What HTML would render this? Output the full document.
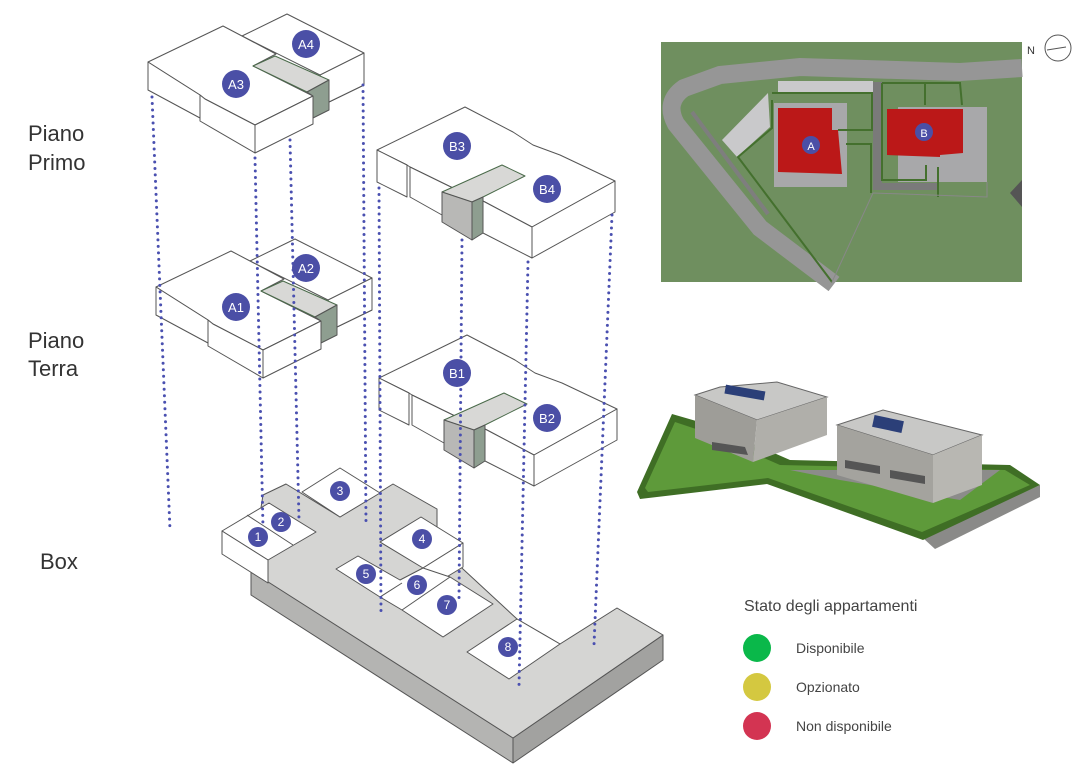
<!DOCTYPE html>
<html><head><meta charset="utf-8"><style>
html,body{margin:0;padding:0;background:#fff;}
svg{display:block;}
text{font-family:"Liberation Sans",sans-serif;}
</style></head><body>
<svg width="1076" height="780" viewBox="0 0 1076 780" xmlns="http://www.w3.org/2000/svg">
<defs>
<g id="ablock" stroke="#555" stroke-width="1" stroke-linejoin="round">
  <polygon points="242,36 287,14 364,53 364,85 329,102 320,75" fill="#fff"/>
  <polygon points="320,75 364,53 364,85 329,102" fill="#fff"/>
  <polygon points="148,62 223,26 242,36 276,54 253,66 313,96 255,125 205,99 200,95" fill="#fff"/>
  <polygon points="148,62 200,95 200,118 148,90" fill="#fff"/>
  <polygon points="200,95 205,99 255,125 255,153 200,121" fill="#fff"/>
  <polygon points="255,125 313,96 313,124 255,153" fill="#fff"/>
  <polygon points="253,66 275,56 329,80 307,92" fill="#d8d8d6" stroke="#4a6a4a"/>
  <polygon points="307,92 329,80 329,110 313,118 313,96" fill="#8e9e90"/>
</g>
<g id="bblock" stroke="#555" stroke-width="1" stroke-linejoin="round">
  <polygon points="377,150 465,107 513,132 533,145 560,155 615,181 532,227 485,202 453,188 410,167 407,165" fill="#fff"/>
  <polygon points="377,150 407,165 407,197 377,182" fill="#fff"/>
  <polygon points="410,167 453,188 442,192 442,215 410,197" fill="#fff"/>
  <polygon points="483,201 532,227 532,258 483,233" fill="#fff"/>
  <polygon points="532,227 615,181 615,212 532,258" fill="#fff"/>
  <polygon points="442,192 502,165 525,176 483,197 472,202" fill="#d8d8d6" stroke="#4a6a4a"/>
  <polygon points="442,192 472,202 472,240 442,222" fill="#b8b8b6"/>
  <polygon points="472,202 483,197 483,233 472,240" fill="#8e9e90"/>
</g>
</defs>

<g fill="#333" font-size="22">
<text x="28" y="141">Piano</text>
<text x="28" y="170">Primo</text>
<text x="28" y="348">Piano</text>
<text x="28" y="376">Terra</text>
<text x="40" y="569">Box</text>
</g>

<g stroke="#555" stroke-width="1" stroke-linejoin="round">
<polygon points="251,570 513,738 513,763 251,595" fill="#b4b4b2"/>
<polygon points="513,738 663,635 663,660 513,763" fill="#a2a2a0"/>
<polygon points="251,571 263,495 286,484 340,517 393,484 437,509 437,545 517,619 560,644 617,608 663,635 513,738" fill="#d5d5d3"/>
<polygon points="222,531 269,503 316,532 268,560" fill="#fff"/>
<polygon points="222,531 268,560 268,583 222,554" fill="#fff"/>
<line x1="247" y1="515" x2="293" y2="545"/>
<polygon points="302,492 340,468 380,493 340,517" fill="#fff"/>
<polygon points="380,542 421,517 463,543 423,568" fill="#fff"/>
<polygon points="423,568 463,543 463,567 440,581" fill="#fff"/>
<polygon points="336,569 358,556 400,580 423,568 450,577 493,604 443,637 402,610 380,597" fill="#fff"/>
<line x1="380" y1="597" x2="402" y2="583"/>
<line x1="402" y1="610" x2="450" y2="577"/>
<polygon points="467,652 517,619 560,644 509,679" fill="#fff"/>
</g>

<use href="#ablock"/>
<use href="#ablock" transform="translate(8,225)"/>
<use href="#bblock"/>
<use href="#bblock" transform="translate(2,228)"/>

<g stroke="#4a50b0" stroke-width="3" stroke-dasharray="0 6.5" stroke-linecap="round" fill="none">
<line x1="152" y1="97" x2="170" y2="530"/>
<line x1="255" y1="158" x2="263" y2="528"/>
<line x1="290" y1="140" x2="299" y2="520"/>
<line x1="363" y1="85" x2="366" y2="525"/>
<line x1="379" y1="188" x2="381" y2="613"/>
<line x1="462" y1="240" x2="459" y2="598"/>
<line x1="528" y1="262" x2="519" y2="686"/>
<line x1="612" y1="215" x2="594" y2="645"/>
</g>

<g fill="#4b4fa6">
<circle cx="236" cy="84" r="14"/><circle cx="306" cy="44" r="14"/>
<circle cx="236" cy="307" r="14"/><circle cx="306" cy="268" r="14"/>
<circle cx="457" cy="146" r="14"/><circle cx="547" cy="189" r="14"/>
<circle cx="457" cy="373" r="14"/><circle cx="547" cy="418" r="14"/>
<circle cx="258" cy="537" r="10"/><circle cx="281" cy="522" r="10"/>
<circle cx="340" cy="491" r="10"/><circle cx="422" cy="539" r="10"/>
<circle cx="366" cy="574" r="10"/><circle cx="417" cy="585" r="10"/>
<circle cx="447" cy="605" r="10"/><circle cx="508" cy="647" r="10"/>
</g>
<g fill="#fff" font-size="13" text-anchor="middle">
<text x="236" y="89">A3</text><text x="306" y="49">A4</text>
<text x="236" y="312">A1</text><text x="306" y="273">A2</text>
<text x="457" y="151">B3</text><text x="547" y="194">B4</text>
<text x="457" y="378">B1</text><text x="547" y="423">B2</text>
<g font-size="12">
<text x="258" y="541">1</text><text x="281" y="526">2</text>
<text x="340" y="495">3</text><text x="422" y="543">4</text>
<text x="366" y="578">5</text><text x="417" y="589">6</text>
<text x="447" y="609">7</text><text x="508" y="651">8</text>
</g>
</g>

<g>
<rect x="661" y="42" width="361" height="240" fill="#6f8f5f"/>
<path d="M1022,68 L960,72 L800,67 L720,75 L684,88 Q664,102 676,124 L760,228 L834,284" fill="none" stroke="#969696" stroke-width="18"/>
<path d="M692,112 L768,214" stroke="#7e7e7e" stroke-width="4" fill="none"/>
<polygon points="778,81 873,81 873,92 778,92" fill="#c9c9cb"/>
<polygon points="722,140 768,93 770,127 737,157" fill="#c9c9cb"/>
<rect x="774" y="103" width="73" height="84" fill="#a8a8aa"/>
<polygon points="778,108 832,108 832,130 838,130 842,174 778,172" fill="#bb1818"/>
<rect x="898" y="107" width="89" height="75" fill="#a8a8aa"/>
<rect x="873" y="82" width="9" height="108" fill="#7a7a7a"/>
<rect x="873" y="183" width="65" height="7" fill="#7a7a7a"/>
<polygon points="887,109 963,109 963,153 940,155 940,157 887,155" fill="#bb1818"/>
<g fill="none" stroke="#44702e" stroke-width="2">
<path d="M772,100 L772,128 L738,157 L832,282"/>
<path d="M772,93 L872,93 L872,130 L838,130"/>
<path d="M846,144 L871,144 L871,193"/>
<path d="M882,83 L960,83 L962,105"/>
<path d="M882,83 L882,180 L926,180 L926,165"/>
<path d="M938,167 L938,197"/>
<path d="M925,83 L925,105"/>
</g>
<path d="M873,193 L987,197 L987,182 M873,193 L832,282" fill="none" stroke="#888" stroke-width="1"/>
<polygon points="1010,193 1022,180 1022,207" fill="#555"/>
<text x="1027" y="54" font-size="11" fill="#333">N</text>
<circle cx="1058" cy="48" r="13" fill="#fff" stroke="#555" stroke-width="1"/>
<line x1="1047" y1="50" x2="1066" y2="47" stroke="#555" stroke-width="1"/>
<circle cx="811" cy="145" r="9" fill="#4b4fa6"/>
<text x="811" y="150" fill="#fff" font-size="11" text-anchor="middle">A</text>
<circle cx="924" cy="132" r="9" fill="#4b4fa6"/>
<text x="924" y="137" fill="#fff" font-size="11" text-anchor="middle">B</text>
</g>

<g>
<polygon points="923,538 1040,485 1040,497 935,549" fill="#8a8a88"/>
<polygon points="637,492 672,414 710,425 790,460 1010,465 1040,485 923,540 767,484 640,499" fill="#3f6e25"/>
<polygon points="645,488 675,422 705,432 780,465 1005,470 1030,485 922,532 768,478 648,492" fill="#5e9a3a"/>
<polygon points="790,470 1000,470 960,500 840,480" fill="#8c8c8a"/>
<polygon points="695,395 720,387 777,382 827,397 757,420" fill="#c8c8c6" stroke="#666" stroke-width="1"/>
<polygon points="695,395 757,420 753,462 695,438" fill="#9e9d98"/>
<polygon points="757,420 827,397 827,435 753,462" fill="#b0afaa"/>
<rect x="725" y="388" width="40" height="9" fill="#2b3f78" transform="rotate(10 745 392)"/>
<polygon points="712,442 745,447 748,455 712,450" fill="#555"/>
<polygon points="837,425 883,410 982,435 933,455" fill="#c8c8c6" stroke="#666" stroke-width="1"/>
<polygon points="837,425 933,455 933,503 837,475" fill="#a4a39e"/>
<polygon points="933,455 982,435 982,485 933,503" fill="#b8b7b2"/>
<rect x="873" y="418" width="30" height="12" fill="#2b3f78" transform="rotate(12 888 424)"/>
<polygon points="845,460 880,466 880,474 845,468" fill="#555"/>
<polygon points="890,470 925,476 925,484 890,478" fill="#555"/>
</g>

<text x="744" y="611" font-size="16" fill="#444">Stato degli appartamenti</text>
<circle cx="757" cy="648" r="14" fill="#0ab84a"/>
<circle cx="757" cy="687" r="14" fill="#d4c840"/>
<circle cx="757" cy="726" r="14" fill="#d33452"/>
<g font-size="14" fill="#444">
<text x="796" y="653">Disponibile</text>
<text x="796" y="692">Opzionato</text>
<text x="796" y="731">Non disponibile</text>
</g>
</svg>
</body></html>
